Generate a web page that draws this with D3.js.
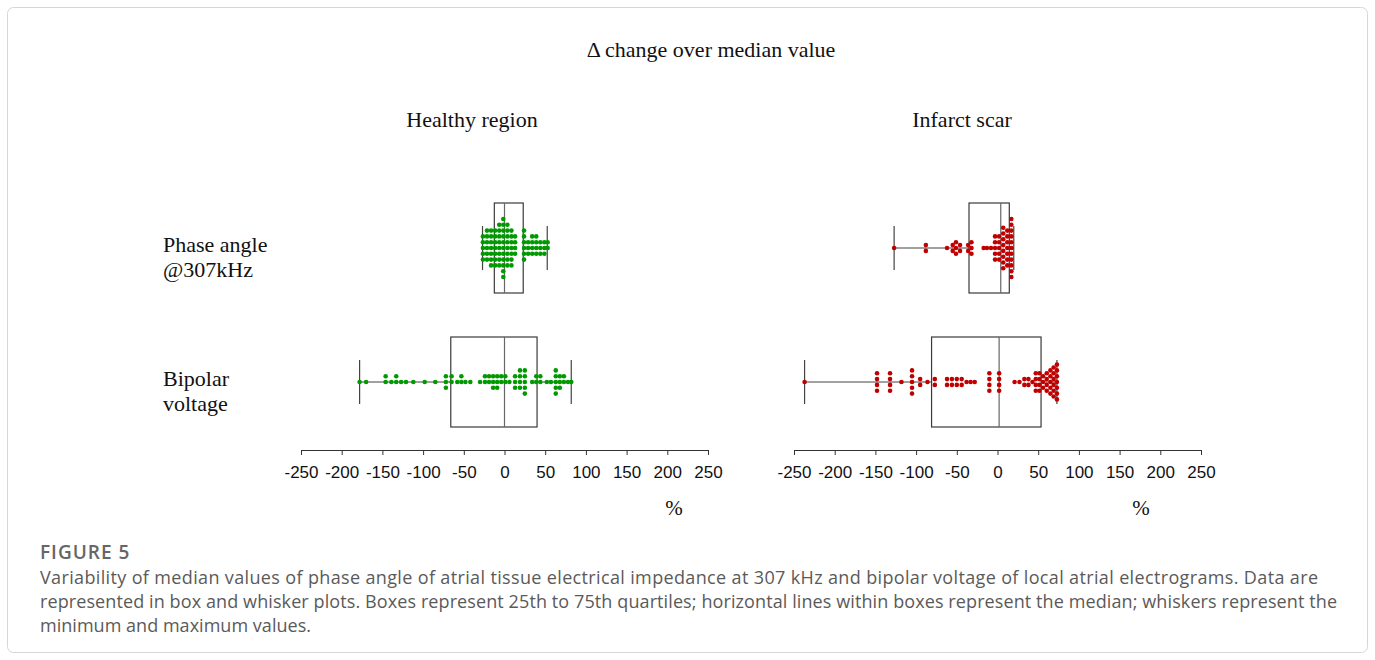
<!DOCTYPE html>
<html>
<head>
<meta charset="utf-8">
<script src="https://cdn.jsdelivr.net/npm/d3@7"></script>
<style>
	body { margin: 0; background: #fff; }
	svg { display: block; }
	.serif { font-family: "Liberation Serif", "Times New Roman", serif; font-size: 22px; fill: #111; }
	.caption { font-family: "Open Sans", "Noto Sans", sans-serif; fill: #5a5a5a; }
</style>
</head>
<body>
<svg width="1375" height="660"></svg>
<script>
const xTicks = [-250, -200, -150, -100, -50, 0, 50, 100, 150, 200, 250];
const panelTitles = ["Healthy region", "Infarct scar"];
const rowKeys = ["phase", "bipolar"];
const rowLabels = [["Phase angle", "@307kHz"], ["Bipolar", "voltage"]];

// min, q1, median, q3, max (% change over median)
const healthyPhaseBox = [-27, -12.5, 0, 23, 52.5];
const healthyBipolarBox = [-178, -66, 0, 40, 82];
const scarPhaseBox = [-127, -35, 4, 14.5, 20];
const scarBipolarBox = [-237, -81, 2, 53.5, 73];

// individual points
const healthyPhase = [
	-26.5, -26.5, -26.5, -26.5, -26.5,
	-21.5, -21.5, -21.5, -21.5, -21.5, -21.5,
	-16.5, -16.5, -16.5, -16.5, -16.5, -16.5, -16.5,
	-11.5, -11.5, -11.5, -11.5, -11.5, -11.5, -11.5,
	-6.5, -6.5, -6.5, -6.5, -6.5, -6.5, -6.5, -6.5,
	-1.5, -1.5, -1.5, -1.5, -1.5, -1.5, -1.5, -1.5, -1.5, -1.5, -1.5,
	3.5, 3.5, 3.5, 3.5, 3.5, 3.5, 3.5, 3.5,
	8.5, 8.5, 8.5, 8.5, 8.5, 8.5, 8.5,
	13, 13, 13, 13,
	24, 24, 24, 24, 24, 24,
	29, 29, 29,
	34, 34, 34, 34,
	39, 39, 39, 39,
	44, 44, 44,
	49, 49, 49,
	53, 53
];
const healthyBipolar = [
	-178, -170, -146, -146, -139, -133, -133, -127, -121, -112, -98, -85,
	-72, -72, -72, -65, -65, -58, -53, -53, -48, -42, -30,
	-24, -24, -19, -19, -14, -14, -14, -9, -9, -9, -4, -4, 1, 1, 6,
	13, 13, 13, 19, 19, 19, 19, 25, 25, 25, 25, 25, 34,
	39, 39, 44, 44, 52, 57,
	63, 63, 63, 63, 63, 68, 68, 68, 73, 73, 78, 82
];
const scarPhase = [
	-127, -88, -88, -62, -55, -55, -51, -51, -51, -46, -46,
	-36, -36, -32, -32, -32, -17, -13, -8,
	-3, -3, -3, -3, -3, 2, 2, 2, 2, 2,
	7, 7, 7, 7, 7, 7, 7, 7,
	12, 12, 12, 12, 12, 12, 12,
	17, 17, 17, 17, 17, 17, 17, 17, 17, 17, 17
];
const scarBipolar = [
	-237, -148, -148, -148, -148, -132, -132, -132, -132, -118,
	-105, -105, -105, -105, -105, -95, -95, -86, -77, -77,
	-62, -62, -56, -56, -50, -50, -44, -44, -38, -33, -28,
	-10, -10, -10, -10, 2, 2, 2, 2, 21, 27, 33, 33, 38, 38, 43,
	47, 47, 47, 47, 51.5, 51.5, 51.5, 51.5, 56, 56, 56,
	60.5, 60.5, 60.5, 60.5, 65, 65, 65, 65, 65,
	69, 69, 69, 69, 69, 69, 73, 73, 73, 73, 73, 73, 73
];

const panels = [
	{
		title: panelTitles[0], range: [301, 708], titleX: 472, unitX: 674,
		color: "#009a00", method: "square",
		boxes: [healthyPhaseBox, healthyBipolarBox],
		points: [healthyPhase, healthyBipolar]
	},
	{
		title: panelTitles[1], range: [794, 1201], titleX: 962, unitX: 1141,
		color: "#c00000", method: "center",
		boxes: [scarPhaseBox, scarBipolarBox],
		points: [scarPhase, scarBipolar]
	}
];

const svg = d3.select("svg");
const width = +svg.attr("width");
const height = +svg.attr("height");

const axisY = 450;
const boxHalf = 45;
const capHalf = 22;
const dotR = 2.3;
const dotStep = 5.8;

svg.append("rect")
	.attr("x", 7.5)
	.attr("y", 7.5)
	.attr("width", width - 15)
	.attr("height", height - 15)
	.attr("rx", 6)
	.attr("fill", "none")
	.attr("stroke", "#d6d6d6");

svg.append("text")
	.attr("class", "serif")
	.attr("x", 711)
	.attr("y", 57)
	.attr("text-anchor", "middle")
	.text("\u0394 change over median value");

const y = d3.scalePoint()
	.domain(rowKeys)
	.range([248, 382]);

rowLabels.forEach((lines, r) => {
	const t = svg.append("text")
		.attr("class", "serif")
		.attr("x", 163)
		.attr("y", y(rowKeys[r]) + 3.5);
	lines.forEach((line, i) => {
		t.append("tspan")
			.attr("x", 163)
			.attr("dy", i === 0 ? 0 : 25)
			.text(line);
	});
});

// grid swarm: equal values share a column, stacked across the row line
function swarm(values, method) {
	const cols = d3.group(values, v => v);
	const out = [];
	for (const [v, list] of cols) {
		const n = list.length;
		list.forEach((_, k) => {
			let off;
			if (method === "center")
				off = k - (n - 1) / 2;
			else
				off = k === 0 ? 0 : (k % 2 ? -Math.ceil(k / 2) : Math.ceil(k / 2));
			out.push({ v, off });
		});
	}
	return out;
}

panels.forEach(p => {
	const x = d3.scaleLinear([-250, 250], p.range);
	const g = svg.append("g");

	g.append("text")
		.attr("class", "serif")
		.attr("x", p.titleX)
		.attr("y", 127)
		.attr("text-anchor", "middle")
		.text(p.title);

	rowKeys.forEach((key, r) => {
		const [mn, q1, med, q3, mx] = p.boxes[r];
		const cy = y(key);
		const row = g.append("g").attr("class", `row row-${key}`);

		row.append("path")
			.attr("fill", "none")
			.attr("stroke", "#444")
			.attr("stroke-width", 1.2)
			.attr("d", `M${x(mn)},${cy}H${x(q1)}M${x(q3)},${cy}H${x(mx)}`
				+ `M${x(mn)},${cy - capHalf}V${cy + capHalf}M${x(mx)},${cy - capHalf}V${cy + capHalf}`);

		row.append("rect")
			.attr("x", x(q1))
			.attr("y", cy - boxHalf)
			.attr("width", x(q3) - x(q1))
			.attr("height", boxHalf * 2)
			.attr("fill", "none")
			.attr("stroke", "#3a3a3a")
			.attr("stroke-width", 1.2);

		row.append("line")
			.attr("x1", x(med))
			.attr("x2", x(med))
			.attr("y1", cy - boxHalf)
			.attr("y2", cy + boxHalf)
			.attr("stroke", "#666")
			.attr("stroke-width", 1.2);

		row.selectAll("circle")
			.data(swarm(p.points[r], p.method))
			.join("circle")
			.attr("cx", d => x(d.v))
			.attr("cy", d => cy + d.off * dotStep)
			.attr("r", dotR)
			.attr("fill", p.color);
	});

	const gX = g.append("g")
		.attr("class", "axis")
		.attr("transform", `translate(0,${axisY})`)
		.call(d3.axisBottom(x)
			.tickValues(xTicks)
			.tickFormat(d => `${d}`)
			.tickSize(5)
			.tickSizeOuter(0)
			.tickPadding(11));

	gX.attr("font-family", "\"Liberation Sans\", Arial, sans-serif")
		.attr("font-size", 17);
	gX.select(".domain").attr("stroke", "#333");
	gX.selectAll(".tick line").attr("stroke", "#333");
	gX.selectAll(".tick text").attr("fill", "#111");

	g.append("text")
		.attr("x", p.unitX)
		.attr("y", 515)
		.attr("text-anchor", "middle")
		.attr("font-family", "\"Liberation Serif\", serif")
		.attr("font-size", 21)
		.attr("fill", "#111")
		.text("%");
});

const caption = svg.append("g").attr("class", "caption");

caption.append("text")
	.attr("x", 40)
	.attr("y", 559)
	.attr("font-size", 19)
	.attr("font-weight", 600)
	.attr("letter-spacing", 1)
	.attr("fill", "#666")
	.text("FIGURE 5");

const captionLines = [
	"Variability of median values of phase angle of atrial tissue electrical impedance at 307 kHz and bipolar voltage of local atrial electrograms. Data are",
	"represented in box and whisker plots. Boxes represent 25th to 75th quartiles; horizontal lines within boxes represent the median; whiskers represent the",
	"minimum and maximum values."
];
// line widths as set in the reference column
const captionWidths = [1278, 1297, 271];

caption.selectAll("text.line")
	.data(captionLines)
	.join("text")
	.attr("class", "line")
	.attr("x", 40)
	.attr("y", (d, i) => 584 + i * 24)
	.attr("font-size", 18)
	.attr("textLength", (d, i) => captionWidths[i])
	.attr("lengthAdjust", "spacing")
	.text(d => d);
</script>
</body>
</html>
